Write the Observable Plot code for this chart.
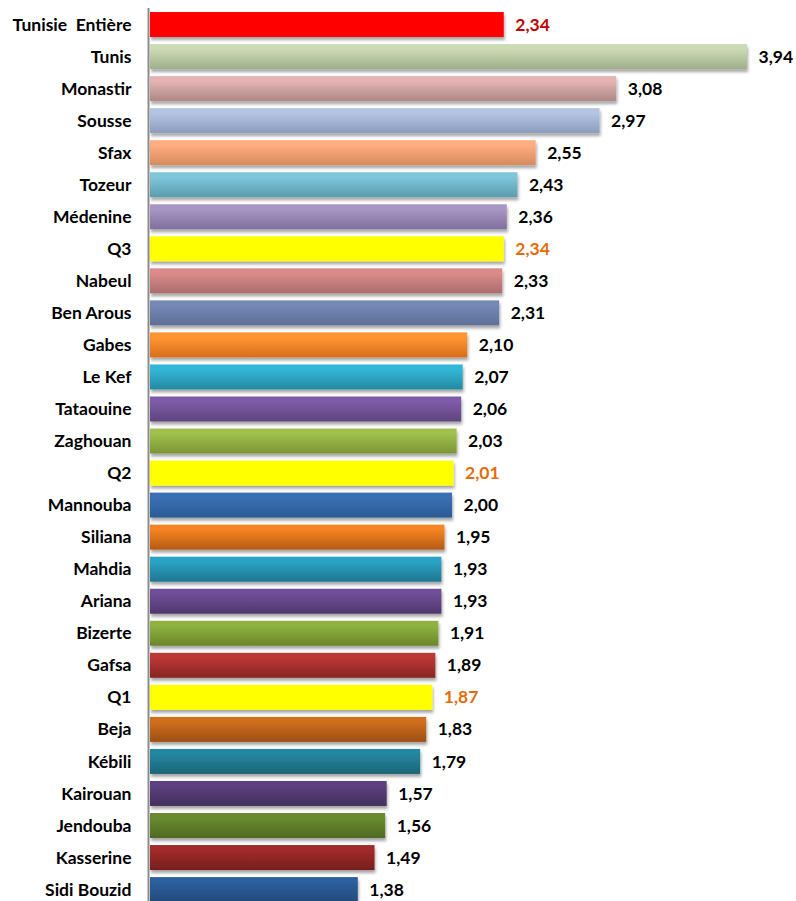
<!DOCTYPE html>
<html><head><meta charset="utf-8">
<script src="https://cdn.jsdelivr.net/npm/d3@7"></script>
<script src="https://cdn.jsdelivr.net/npm/@observablehq/plot@0.6"></script>
<style>html,body{margin:0;padding:0;background:#fff} svg{display:block}</style>
</head><body><div id="chart"></div>
<script>
const categories = ["Tunisie  Entière","Tunis","Monastir","Sousse","Sfax","Tozeur","Médenine","Q3","Nabeul","Ben Arous","Gabes","Le Kef","Tataouine","Zaghouan","Q2","Mannouba","Siliana","Mahdia","Ariana","Bizerte","Gafsa","Q1","Beja","Kébili","Kairouan","Jendouba","Kasserine","Sidi Bouzid"];
const values = [2.34,3.94,3.08,2.97,2.55,2.43,2.36,2.34,2.33,2.31,2.10,2.07,2.06,2.03,2.01,2.00,1.95,1.93,1.93,1.91,1.89,1.87,1.83,1.79,1.57,1.56,1.49,1.38];
const topColors = ["#FF0000","#CDDBB5","#E4B4B3","#B5C4E3","#FFAE7F","#7FC6DA","#A896C4","#FFFF00","#DC8B8A","#7488B6","#FF9533","#33B7D8","#7E5CAA","#A0C14E","#FFFF00","#3A70B4","#F58421","#2CA3C4","#6F4F98","#8FB240","#BB3735","#FFFF00","#D06E1F","#2487A0","#5D3F7F","#6A8A30","#A22B2B","#2D5F9E"];
const bottomColors = ["#FF0000","#9EAF8A","#AE8787","#8C9CBC","#D58A5F","#5A9CAD","#7F6F9C","#FFFF00","#A96C6C","#5E6F98","#D86E1A","#2489A1","#5F447D","#7A9534","#FFFF00","#2A5A94","#B55A14","#1E7690","#4F376D","#6A862A","#882524","#FFFF00","#9C4F13","#1A6577","#42305D","#4E6A22","#761E1E","#234A7B"];
const labelColors = ["#C00000","#000","#000","#000","#000","#000","#000","#E36C0A","#000","#000","#000","#000","#000","#000","#E36C0A","#000","#000","#000","#000","#000","#000","#E36C0A","#000","#000","#000","#000","#000","#000"];

const data = categories.map((c, i) => ({category: c, value: values[i], fill: `url(#grad${i})`, labelColor: labelColors[i]}));

const chart = Plot.plot({
  width: 796, height: 901,
  marginTop: 8, marginBottom: 0, marginLeft: 148, marginRight: 0,
  x: {domain: [0, 3.94], range: [148, 747], axis: null},
  y: {domain: categories, range: [8.48, 905.6], paddingInner: 0.22, paddingOuter: 0.11, round: false, label: null, axis: null},
  color: {type: "identity"},
  style: {fontFamily: "Lato, 'Open Sans', sans-serif", fontWeight: "bold", color: "#000", background: "#fff"},
  marks: [
    Plot.barX(data, {x: "value", y: "category", fill: "fill", insetLeft: 2}),
    Plot.ruleX([0], {stroke: "#8c8c8c", strokeWidth: 2}),
    Plot.text(data, {x: "value", y: "category", text: d => d.value.toFixed(2).replace(".", ","), fill: "labelColor", textAnchor: "start", dx: 11, fontSize: 17.5, fontWeight: "bold"}),
    Plot.axisY({tickSize: 0, tickPadding: 17, fontSize: 17.5, fontWeight: "bold", fill: "#000", label: null})
  ]
});

const svg = d3.select(chart);
const defs = svg.insert("defs", ":first-child");
topColors.forEach((t, i) => {
  const b = bottomColors[i];
  const g = defs.append("linearGradient").attr("id", "grad" + i).attr("x1", 0).attr("y1", 0).attr("x2", 0).attr("y2", 1);
  g.append("stop").attr("offset", "0").attr("stop-color", t);
  g.append("stop").attr("offset", "0.2").attr("stop-color", t);
  g.append("stop").attr("offset", "1").attr("stop-color", b);
});
const f = defs.append("filter").attr("id", "shadow").attr("x", "-5%").attr("y", "-20%").attr("width", "115%").attr("height", "160%");
f.append("feDropShadow").attr("dx", 1).attr("dy", 3).attr("stdDeviation", 1.5).attr("flood-color", "#000").attr("flood-opacity", 0.35);
svg.select('g[aria-label="bar"]').attr("filter", "url(#shadow)");

document.getElementById("chart").appendChild(chart);
</script>
</body></html>
